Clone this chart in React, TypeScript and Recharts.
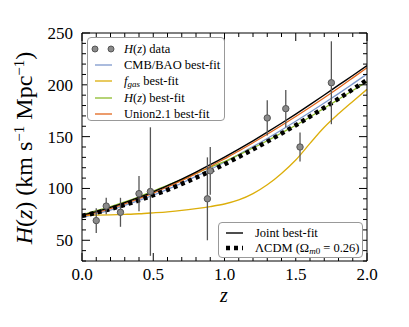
import React from "react";
import { ComposedChart, Line, Scatter, ErrorBar, XAxis, YAxis } from "recharts";

const FONT = "'Liberation Serif', 'Times New Roman', serif";

// redshift grid for the model curves
const zGrid = [0, 0.1, 0.2, 0.3, 0.4, 0.5, 0.6, 0.7, 0.8, 0.9, 1.0, 1.1, 1.2, 1.3, 1.4, 1.5, 1.6, 1.7, 1.8, 1.9, 2.0];

// H(z), km/s/Mpc
const hCmbBao = [72, 75.4, 79.2, 83.6, 88.4, 93.6, 99.2, 105.2, 111.6, 118.3, 125.3, 132.7, 140.3, 148.2, 156.4, 164.8, 173.5, 182.4, 191.5, 200.9, 210.4];
const hFgas = [74, 74.2, 74.5, 75, 75.6, 76.5, 77.5, 78.8, 80.5, 82.5, 85, 88.9, 95, 103.5, 114.5, 127.5, 143.5, 159, 172, 184, 195.7];
const hHzFit = [74.5, 78.5, 82.5, 87, 92, 97.5, 103, 108.5, 114.5, 120.5, 126, 132.5, 139, 146, 153.5, 161, 169, 177.5, 186, 194.5, 203];
const hUnion = [73, 76.6, 80.6, 85.1, 90.1, 95.5, 101.4, 107.6, 114.3, 121.2, 128.6, 136.1, 144.1, 152.3, 160.7, 169.4, 178.4, 187.6, 197, 206.7, 216.5];
const hJoint = [74, 77.6, 81.7, 86.3, 91.3, 96.8, 102.8, 109.1, 115.8, 122.9, 130.3, 138, 146, 154.3, 162.9, 171.8, 180.9, 190.2, 199.7, 209, 218.5];
const hLcdm = [73.5, 76.6, 80.2, 84.2, 88.6, 93.5, 98.7, 104.4, 110.4, 116.7, 123.4, 130.4, 137.7, 145.2, 153, 161, 169.4, 177.9, 186.6, 195.6, 204.8];

// H(z) measurements
const obsZ = [0.1, 0.17, 0.27, 0.4, 0.48, 0.88, 0.9, 1.3, 1.43, 1.53, 1.75];
const obsH = [69, 83, 77, 95, 97, 90, 117, 168, 177, 140, 202];
const obsErr = [12, 8, 14, 17, 62, 40, 23, 17, 18, 14, 40];

const xTicks = [0, 0.1, 0.2, 0.3, 0.4, 0.5, 0.6, 0.7, 0.8, 0.9, 1.0, 1.1, 1.2, 1.3, 1.4, 1.5, 1.6, 1.7, 1.8, 1.9, 2.0];
const yTicks = [30, 40, 50, 60, 70, 80, 90, 100, 110, 120, 130, 140, 150, 160, 170, 180, 190, 200, 210, 220, 230, 240, 250];

const curves = zGrid.map((z, i) => ({
  z,
  cmb: hCmbBao[i],
  fgas: hFgas[i],
  hz: hHzFit[i],
  union: hUnion[i],
  joint: hJoint[i],
  lcdm: hLcdm[i],
}));

const points = obsZ.map((z, i) => ({ z, H: obsH[i], err: obsErr[i] }));

const isMajor = (v: number, step: number) => Math.abs(v / step - Math.round(v / step)) < 1e-6;

const XTick = (props: any) => {
  const { x, y, payload, side } = props;
  const major = isMajor(payload.value, 0.5);
  const len = major ? 8 : 4;
  const dir = side === "top" ? 1 : -1;
  return (
    <g>
      <line x1={x} x2={x} y1={y} y2={y + dir * len} stroke="#000" strokeWidth={1} />
      {side === "bottom" && major && (
        <text x={x} y={y + 19} textAnchor="middle" fontFamily={FONT} fontSize={17} fill="#000">
          {payload.value.toFixed(1)}
        </text>
      )}
    </g>
  );
};

const YTick = (props: any) => {
  const { x, y, payload, side } = props;
  const major = isMajor(payload.value, 50);
  const len = major ? 8 : 4;
  const dir = side === "right" ? -1 : 1;
  return (
    <g>
      <line x1={x} x2={x + dir * len} y1={y} y2={y} stroke="#000" strokeWidth={1} />
      {side === "left" && major && (
        <text x={x - 9} y={y + 6} textAnchor="end" fontFamily={FONT} fontSize={17} fill="#000">
          {payload.value}
        </text>
      )}
    </g>
  );
};

const Dot = (props: any) => {
  const { cx, cy } = props;
  return <circle cx={cx} cy={cy} r={3.2} fill="#8a8a8a" stroke="#555" strokeWidth={1} />;
};

const box: React.CSSProperties = {
  position: "absolute",
  background: "#fff",
  border: "1px solid #999",
  borderRadius: 4,
  fontFamily: FONT,
  fontSize: 12.5,
  color: "#000",
  boxSizing: "border-box",
};

const Row = ({ top, sample, children }: { top: number; sample: React.ReactNode; children: React.ReactNode }) => (
  <div style={{ position: "absolute", left: 0, top: top - 8, height: 16, width: "100%", lineHeight: "16px", whiteSpace: "nowrap" }}>
    <svg width={30} height={16} style={{ position: "absolute", left: 0, top: 0 }}>
      {sample}
    </svg>
    <span style={{ position: "absolute", left: 36, top: 0 }}>{children}</span>
  </div>
);

const seg = (color: string, w = 1.3) => <line x1={7} x2={24} y1={8} y2={8} stroke={color} strokeWidth={w} />;

const C_CMB = "#7d98cc";
const C_FGAS = "#dcae0a";
const C_HZ = "#8dbb2c";
const C_UNION = "#e2661c";

export default function App() {
  return (
    <div style={{ position: "relative", width: 393, height: 311 }}>
      <ComposedChart width={393} height={311} data={curves} margin={{ top: 20, right: 29, bottom: 0, left: 0 }}>
        <XAxis
          dataKey="z"
          type="number"
          domain={[0, 2]}
          ticks={xTicks}
          interval={0}
          height={58}
          tickSize={0}
          tickMargin={0}
          tickLine={false}
          axisLine={{ stroke: "#000" }}
          tick={(p: any) => <XTick {...p} side="bottom" />}
          allowDataOverflow
        />
        <XAxis
          xAxisId="top"
          dataKey="z"
          orientation="top"
          type="number"
          domain={[0, 2]}
          ticks={xTicks}
          interval={0}
          height={5}
          tickSize={0}
          tickMargin={0}
          tickLine={false}
          axisLine={{ stroke: "#000" }}
          tick={(p: any) => <XTick {...p} side="top" />}
          allowDataOverflow
        />
        <YAxis
          type="number"
          domain={[30, 250]}
          ticks={yTicks}
          interval={0}
          width={74}
          tickSize={0}
          tickMargin={0}
          tickLine={false}
          axisLine={{ stroke: "#000" }}
          tick={(p: any) => <YTick {...p} side="left" />}
          allowDataOverflow
        />
        <YAxis
          yAxisId="right"
          orientation="right"
          type="number"
          domain={[30, 250]}
          ticks={yTicks}
          interval={0}
          width={5}
          tickSize={0}
          tickMargin={0}
          tickLine={false}
          axisLine={{ stroke: "#000" }}
          tick={(p: any) => <YTick {...p} side="right" />}
          allowDataOverflow
        />
        <Line dataKey="cmb" type="monotone" stroke={C_CMB} strokeWidth={1.3} dot={false} isAnimationActive={false} />
        <Line dataKey="fgas" type="monotone" stroke={C_FGAS} strokeWidth={1.3} dot={false} isAnimationActive={false} />
        <Line dataKey="hz" type="monotone" stroke={C_HZ} strokeWidth={1.3} dot={false} isAnimationActive={false} />
        <Line dataKey="union" type="monotone" stroke={C_UNION} strokeWidth={1.3} dot={false} isAnimationActive={false} />
        <Line dataKey="joint" type="monotone" stroke="#000" strokeWidth={1.4} dot={false} isAnimationActive={false} />
        <Line dataKey="lcdm" type="monotone" stroke="#000" strokeWidth={4.5} strokeDasharray="4 4" dot={false} isAnimationActive={false} />
        <Scatter data={points} dataKey="H" shape={<Dot />} isAnimationActive={false}>
          <ErrorBar dataKey="err" direction="y" width={0} stroke="#555" strokeWidth={1.3} />
        </Scatter>
        <text
          x={24}
          y={140}
          transform="rotate(-90, 24, 140)"
          textAnchor="middle"
          fontFamily={FONT}
          fontSize={24}
          fill="#000"
        >
          <tspan fontStyle="italic">H</tspan>(<tspan fontStyle="italic">z</tspan>) (km s
          <tspan dy={-8} fontSize={15}>−1</tspan>
          <tspan dy={8}> Mpc</tspan>
          <tspan dy={-8} fontSize={15}>−1</tspan>
          <tspan dy={8}>)</tspan>
        </text>
        <text x={216} y={294} textAnchor="middle" fontFamily={FONT} fontSize={20} fontStyle="italic" fill="#000">
          z
        </text>
      </ComposedChart>

      <div style={{ ...box, left: 79, top: 29, width: 138, height: 84 }}>
        <Row
          top={11}
          sample={
            <>
              <circle cx={7} cy={8} r={3} fill="#8a8a8a" stroke="#555" />
              <circle cx={23} cy={8} r={3} fill="#8a8a8a" stroke="#555" />
            </>
          }
        >
          <i>H</i>(<i>z</i>) data
        </Row>
        <Row top={27} sample={seg(C_CMB)}>CMB/BAO best-fit</Row>
        <Row top={43} sample={seg(C_FGAS)}>
          <i>f</i>
          <sub style={{ fontSize: 9, fontStyle: "italic", verticalAlign: "-2px" }}>gas</sub> best-fit
        </Row>
        <Row top={60} sample={seg(C_HZ)}>
          <i>H</i>(<i>z</i>) best-fit
        </Row>
        <Row top={76} sample={seg(C_UNION)}>Union2.1 best-fit</Row>
      </div>

      <div style={{ ...box, left: 210, top: 214, width: 145, height: 36 }}>
        <Row top={10} sample={seg("#000", 1.4)}>Joint best-fit</Row>
        <Row top={25} sample={<line x1={7} x2={24} y1={8} y2={8} stroke="#000" strokeWidth={4.5} strokeDasharray="4 4" />}>
          ΛCDM (Ω<sub style={{ fontSize: 9, verticalAlign: "-2px" }}><i>m</i>0</sub> = 0.26)
        </Row>
      </div>
    </div>
  );
}
